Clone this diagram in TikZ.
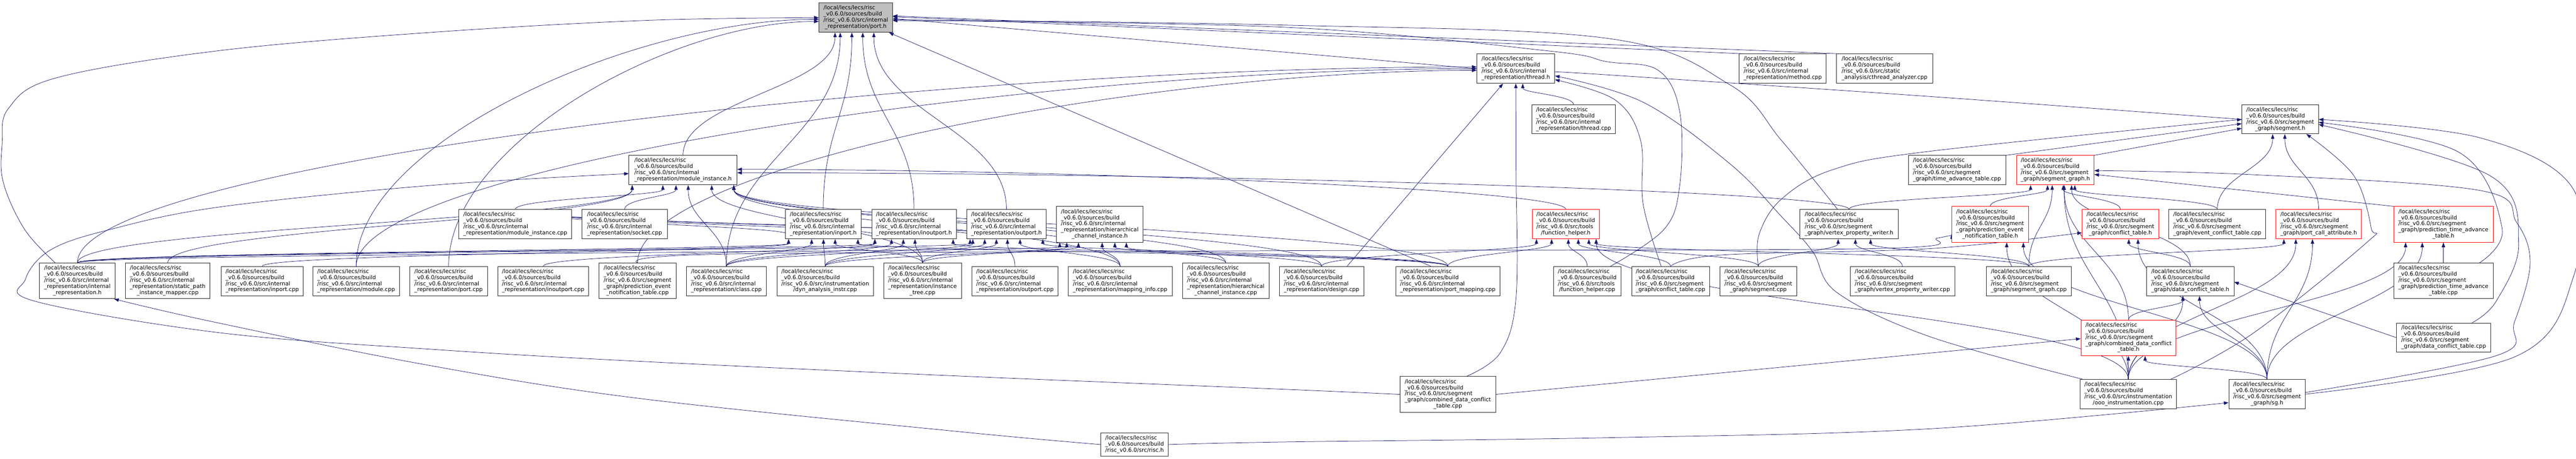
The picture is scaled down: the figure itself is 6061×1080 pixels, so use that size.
\documentclass[tikz,border=0pt]{standalone}
\usepackage{fontspec}
\setmainfont{DejaVu Sans}
\usetikzlibrary{arrows.meta,calc,backgrounds}
\definecolor{edgec}{HTML}{191970}
\definecolor{rootfill}{HTML}{BFBFBF}
\newcommand{\lcpre}{/local/lecs/lecs/risc\\\_v0.6.0/sources/build}
\newcommand{\lcir}{\lcpre\\/risc\_v0.6.0/src/internal}
\newcommand{\lcsg}{\lcpre\\/risc\_v0.6.0/src/segment}
\newcommand{\lns}[2]{\begin{tabular}{@{}l@{}}#1\\\multicolumn{1}{@{}c@{}}{#2}\end{tabular}}
\newcommand{\gn}[7]{\node[#2, minimum width={(#4-#3)*1pt}, minimum height={(#6-#5)*1pt}] (#1) at ({(#3+#4)/2},{-(#5+#6)/2}) {#7};}
\newcommand{\ed}[2]{\draw[edge] let \p1=(#1.north), \p2=(#2.south), \p3=(#2.south east), \n1={max(-(\x3-\x2)+8, min((\x3-\x2)-8, 0.12*(\x1-\x2)))}, \n2={0.45*(\y2-\y1)} in (\p1) .. controls +(0,\n2) and +(0,-\n2) .. (\x2+\n1,\y2);}
\newcommand{\edw}[3]{\draw[edge] let \p1=(#1.north), \p2=([yshift=#3]#2.west), \n1={0.5*(\y2-\y1)}, \n2={0.4*abs(\x2-\x1)} in (\p1) .. controls +(0,\n1) and +(-\n2,0) .. (\p2);}
\newcommand{\ede}[3]{\draw[edge] let \p1=(#1.north), \p2=([yshift=#3]#2.east), \n1={0.5*(\y2-\y1)}, \n2={0.4*abs(\x2-\x1)} in (\p1) .. controls +(0,\n1) and +(\n2,0) .. (\p2);}
\begin{document}
\begin{tikzpicture}[x=1pt,y=1pt,font={\fontsize{13}{14.4}\selectfont},
  box/.style={draw=black!85, line width=1.1pt, fill=white, inner sep=0pt},
  redbox/.style={box, draw=red},
  rootbox/.style={box, fill=rootfill},
  edge/.style={draw=edgec, line width=0.9pt, -{Triangle[length=11pt,width=8pt]}}]
\useasboundingbox (0,0) rectangle (6061,-1080);
% row 0
\gn{porth}{rootbox}{1927}{2100}{7}{76}{\lns{\lcir}{\_representation/port.h}}
% row 1
\gn{threadh}{box}{3475}{3658}{127}{196}{\lns{\lcir}{\_representation/thread.h}}
\gn{methodcpp}{box}{4092}{4297}{127}{196}{\lns{\lcir}{\_representation/method.cpp}}
\gn{cthread}{box}{4321}{4547}{127}{196}{\lns{\lcpre\\/risc\_v0.6.0/src/static}{\_analysis/cthread\_analyzer.cpp}}
% row 2
\gn{threadcpp}{box}{3604}{3801}{247}{315}{\lns{\lcir}{\_representation/thread.cpp}}
\gn{segmenth}{box}{5275}{5455}{247}{315}{\lns{\lcsg}{\_graph/segment.h}}
% row 3
\gn{modinsth}{box}{1480}{1734}{366}{435}{\lns{\lcir}{\_representation/module\_instance.h}}
\gn{tatcpp}{box}{4490}{4719}{366}{435}{\lns{\lcsg}{\_graph/time\_advance\_table.cpp}}
\gn{sgh}{redbox}{4745}{4927}{366}{435}{\lns{\lcsg}{\_graph/segment\_graph.h}}
% row 4
\gn{modinstcpp}{box}{1080}{1345}{493}{562}{\lns{\lcir}{\_representation/module\_instance.cpp}}
\gn{socketcpp}{box}{1369}{1570}{493}{562}{\lns{\lcir}{\_representation/socket.cpp}}
\gn{inporth}{box}{1848}{2026}{493}{562}{\lns{\lcir}{\_representation/inport.h}}
\gn{inoutporth}{box}{2051}{2250}{493}{562}{\lns{\lcir}{\_representation/inoutport.h}}
\gn{outporth}{box}{2275}{2461}{493}{562}{\lns{\lcir}{\_representation/outport.h}}
\gn{hcih}{box}{2486}{2689}{486}{570}{\lns{\lcir\\\_representation/hierarchical}{\_channel\_instance.h}}
\gn{fhh}{redbox}{3605}{3763}{493}{562}{\lns{\lcpre\\/risc\_v0.6.0/src/tools}{/function\_helper.h}}
\gn{vpwh}{box}{4235}{4466}{493}{562}{\lns{\lcsg}{\_graph/vertex\_property\_writer.h}}
\gn{pentableh}{redbox}{4592}{4773}{486}{570}{\lns{\lcsg\\\_graph/prediction\_event}{\_notification\_table.h}}
\gn{ctableh}{redbox}{4899}{5079}{493}{562}{\lns{\lcsg}{\_graph/conflict\_table.h}}
\gn{ectcpp}{box}{5103}{5331}{493}{562}{\lns{\lcsg}{\_graph/event\_conflict\_table.cpp}}
\gn{pcah}{redbox}{5355}{5556}{493}{562}{\lns{\lcsg}{\_graph/port\_call\_attribute.h}}
\gn{ptath}{redbox}{5632}{5866}{486}{570}{\lns{\lcsg\\\_graph/prediction\_time\_advance}{\_table.h}}
% row 5
\gn{irh}{box}{93}{271}{619}{703}{\lns{\lcir\\\_representation/internal}{\_representation.h}}
\gn{spimcpp}{box}{295}{494}{619}{703}{\lns{\lcir\\\_representation/static\_path}{\_instance\_mapper.cpp}}
\gn{inportcpp}{box}{521}{713}{627}{696}{\lns{\lcir}{\_representation/inport.cpp}}
\gn{modulecpp}{box}{736}{940}{627}{696}{\lns{\lcir}{\_representation/module.cpp}}
\gn{portcpp}{box}{964}{1147}{627}{696}{\lns{\lcir}{\_representation/port.cpp}}
\gn{inoutportcpp}{box}{1171}{1385}{627}{696}{\lns{\lcir}{\_representation/inoutport.cpp}}
\gn{pentablecpp}{box}{1409}{1591}{619}{703}{\lns{\lcsg\\\_graph/prediction\_event}{\_notification\_table.cpp}}
\gn{classcpp}{box}{1615}{1803}{627}{696}{\lns{\lcir}{\_representation/class.cpp}}
\gn{dyncpp}{box}{1828}{2055}{627}{696}{\lns{\lcpre\\/risc\_v0.6.0/src/instrumentation}{/dyn\_analysis\_instr.cpp}}
\gn{itreecpp}{box}{2079}{2262}{619}{703}{\lns{\lcir\\\_representation/instance}{\_tree.cpp}}
\gn{outportcpp}{box}{2287}{2489}{627}{696}{\lns{\lcir}{\_representation/outport.cpp}}
\gn{mapcpp}{box}{2513}{2758}{627}{696}{\lns{\lcir}{\_representation/mapping\_info.cpp}}
\gn{hcicpp}{box}{2782}{2986}{619}{703}{\lns{\lcir\\\_representation/hierarchical}{\_channel\_instance.cpp}}
\gn{designcpp}{box}{3010}{3209}{627}{696}{\lns{\lcir}{\_representation/design.cpp}}
\gn{pmapcpp}{box}{3284}{3529}{627}{696}{\lns{\lcir}{\_representation/port\_mapping.cpp}}
\gn{fhcpp}{box}{3655}{3814}{627}{696}{\lns{\lcpre\\/risc\_v0.6.0/src/tools}{/function\_helper.cpp}}
\gn{ctablecpp}{box}{3839}{4022}{627}{696}{\lns{\lcsg}{\_graph/conflict\_table.cpp}}
\gn{segcpp}{box}{4047}{4227}{627}{696}{\lns{\lcsg}{\_graph/segment.cpp}}
\gn{vpwcpp}{box}{4353}{4599}{627}{696}{\lns{\lcsg}{\_graph/vertex\_property\_writer.cpp}}
\gn{sgcpp}{box}{4674}{4873}{627}{696}{\lns{\lcsg}{\_graph/segment\_graph.cpp}}
\gn{dcth}{box}{5051}{5256}{627}{696}{\lns{\lcsg}{\_graph/data\_conflict\_table.h}}
\gn{ptatcpp}{box}{5632}{5866}{619}{703}{\lns{\lcsg\\\_graph/prediction\_time\_advance}{\_table.cpp}}
% row 6
\gn{cdcth}{redbox}{4896}{5120}{753}{837}{\lns{\lcsg\\\_graph/combined\_data\_conflict}{\_table.h}}
\gn{dctcpp}{box}{5639}{5860}{760}{829}{\lns{\lcsg}{\_graph/data\_conflict\_table.cpp}}
% row 7
\gn{cdctcpp}{box}{3294}{3519}{886}{970}{\lns{\lcsg\\\_graph/combined\_data\_conflict}{\_table.cpp}}
\gn{ooocpp}{box}{4894}{5121}{893}{962}{\lns{\lcpre\\/risc\_v0.6.0/src/instrumentation}{/ooo\_instrumentation.cpp}}
\gn{sgh2}{box}{5244}{5424}{893}{962}{\lns{\lcsg}{\_graph/sg.h}}
% row 8
\gn{risch}{box}{2590}{2749}{1019}{1073}{\lns{\lcpre}{/risc\_v0.6.0/src/risc.h}}
\begin{scope}[on background layer]
% ---- port.h
\ed{modinsth}{porth}\ed{classcpp}{porth}\ed{inporth}{porth}\ed{inoutporth}{porth}\ed{outporth}{porth}
\draw[edge] ([xshift=-40pt]pmapcpp.north) -- ([xshift=78pt]porth.south);
\draw[edge] (threadh.west) -- ([yshift=-2pt]porth.east);
\draw[edge] ([xshift=10pt]methodcpp.north west) -- ([yshift=2pt]porth.east);
\draw[edge] ([xshift=6pt]cthread.north west) -- ([yshift=4pt]porth.east);
\draw[edge] plot[smooth,tension=0.6] coordinates {([xshift=-27pt]vpwh.north) (4192,-331) (4071,-200) (3780,-90) (3020,-59) ([yshift=-5pt]porth.east)};
\draw[edge] plot[smooth,tension=0.6] coordinates {([xshift=55pt]fhcpp.north) (3915,-540) (3952,-437) (3952,-262) (3901,-165) (3780,-145) (3645,-120) (3020,-64) ([yshift=-7pt]porth.east)};
\edw{modulecpp}{porth}{-4pt}
\edw{portcpp}{porth}{-9pt}
\draw[edge] plot[smooth,tension=0.6] coordinates {([xshift=-52pt]irh.north) (58,-540) (8,-430) (5,-340) (20,-255) (133,-183) (517,-119) (1017,-76) (1520,-48) ([yshift=0pt]porth.west)};
% ---- thread.h
\ed{threadcpp}{threadh}
\draw[edge] plot[smooth,tension=0.6] coordinates {(segmenth.west) (4540,-227) (3780,-176) ([yshift=-8pt]threadh.east)};
\edw{irh}{threadh}{4pt}
\edw{modulecpp}{threadh}{0pt}
\edw{pentablecpp}{threadh}{-4pt}
\draw[edge] ([xshift=-40pt]designcpp.north east) -- ([xshift=-30pt]threadh.south);
\draw[edge] plot[smooth,tension=0.6] coordinates {([xshift=44pt]cdctcpp.north) (3530,-830) (3567,-700) (3567,-400) (threadh.south)};
\draw[edge] plot[smooth,tension=0.6] coordinates {([xshift=-22pt]ctablecpp.north) (3866,-480) (3860,-330) (3800,-235) ([yshift=-26pt]threadh.east)};
\draw[edge] plot[smooth,tension=0.6] coordinates {([xshift=-107pt]ooocpp.north) (4540,-792) (4323,-689) (4265,-592) (4192,-510) (4071,-386) (3867,-241) ([yshift=-17pt]threadh.east)};
% ---- module_instance.h
\ed{modinstcpp}{modinsth}\ed{socketcpp}{modinsth}\ed{classcpp}{modinsth}\ed{irh}{modinsth}
\ed{spimcpp}{modinsth}\ed{itreecpp}{modinsth}\ed{designcpp}{modinsth}\ed{mapcpp}{modinsth}
\ed{pmapcpp}{modinsth}\ed{hcicpp}{modinsth}
\ede{fhh}{modinsth}{2pt}
\ede{vpwh}{modinsth}{-6pt}
\draw[edge] plot[smooth,tension=0.6] coordinates {(cdctcpp.west) (3020,-916) (2260,-885) (1500,-850) (1017,-822) (517,-783) (83,-709) (60,-657) (119,-588) (259,-540) (517,-487) (1017,-436) ([yshift=-8pt]modinsth.west)};
% ---- port headers
\ed{irh}{inporth}\ed{inportcpp}{inporth}\ed{classcpp}{inporth}\ed{dyncpp}{inporth}
\ed{itreecpp}{inporth}\ed{modinstcpp}{inporth}\ed{pmapcpp}{inporth}
\ed{irh}{inoutporth}\ed{inoutportcpp}{inoutporth}\ed{dyncpp}{inoutporth}\ed{itreecpp}{inoutporth}
\ed{classcpp}{inoutporth}\ed{modinstcpp}{inoutporth}\ed{pmapcpp}{inoutporth}
\ed{irh}{outporth}\ed{outportcpp}{outporth}\ed{mapcpp}{outporth}\ed{dyncpp}{outporth}
\ed{itreecpp}{outporth}\ed{classcpp}{outporth}\ed{modinstcpp}{outporth}\ed{pmapcpp}{outporth}
\ed{irh}{hcih}\ed{hcicpp}{hcih}\ed{mapcpp}{hcih}\ed{itreecpp}{hcih}\ed{designcpp}{hcih}
\ed{dyncpp}{hcih}\ed{modinstcpp}{hcih}
% ---- function_helper.h
\ed{fhcpp}{fhh}\ed{designcpp}{fhh}\ed{pmapcpp}{fhh}\ed{ctablecpp}{fhh}\ed{segcpp}{fhh}
\ed{sgcpp}{fhh}\ed{ooocpp}{fhh}
% ---- vertex_property_writer.h
\ed{vpwcpp}{vpwh}\ed{segcpp}{vpwh}\ed{sgcpp}{vpwh}
% ---- segment.h
\draw[edge] plot[smooth,tension=0.6] coordinates {(segcpp.north) (4139,-551) (4192,-468) (4313,-399) (4540,-356) (segmenth.west)};
\draw[edge] (tatcpp.north east) -- ([yshift=-10pt]segmenth.west);
\draw[edge] (sgh.north east) -- ([yshift=-21pt]segmenth.west);
\ed{ectcpp}{segmenth}\ed{pcah}{segmenth}
\draw[edge] plot[smooth,tension=0.6] coordinates {(sgh2.east) (5916,-840) (6054,-654) (6052,-441) (5834,-324) (segmenth.east)};
\draw[edge] plot[smooth,tension=0.6] coordinates {([xshift=85pt]ptatcpp.north) (5887,-537) (5785,-358) ([yshift=-7pt]segmenth.east)};
\draw[edge] plot[smooth,tension=0.6] coordinates {([xshift=67pt]dctcpp.north) (5873,-709) (5926,-572) (5858,-413) ([yshift=-12pt]segmenth.east)};
\draw[edge] plot[smooth,tension=0.6] coordinates {([xshift=100pt]ooocpp.north) (5300,-785) (5567,-572) (5579,-537) (5538,-413) ([xshift=-29pt]segmenth.south east)};
% ---- segment_graph.h
\ed{pentableh}{sgh}\ed{cdcth}{sgh}\ed{dcth}{sgh}\ed{ctableh}{sgh}\ed{ectcpp}{sgh}
\ed{sgcpp}{sgh}\ed{vpwh}{sgh}\ed{ooocpp}{sgh}
\draw[edge] (ptath.north west) -- ([yshift=-10pt]sgh.east);
\draw[edge] plot[smooth,tension=0.6] coordinates {([yshift=4pt]sgh2.east) (5873,-837) (5916,-758) (5953,-620) (5921,-523) (5834,-448) (5300,-411) ([yshift=-1pt]sgh.east)};
% ---- other headers
\draw[edge] plot[smooth,tension=0.6] coordinates {(pentablecpp.north) (1700,-598) (3000,-590) (4400,-585) (4560,-560) ([yshift=-23pt]pentableh.west)};
\ed{sgh2}{pentableh}\ed{ooocpp}{pentableh}
\draw[edge] plot[smooth,tension=0.6] coordinates {(ctablecpp.north) (4050,-600) (4540,-585) ([yshift=-20pt]ctableh.west)};
\ed{dcth}{ctableh}\ed{sgh2}{ctableh}
\draw[edge] (dctcpp.west) -- ([yshift=-2pt]dcth.east);
\ed{cdcth}{dcth}\ed{ooocpp}{dcth}\ed{sgh2}{dcth}
\ed{ooocpp}{cdcth}\ed{sgh2}{cdcth}
\draw[edge] (cdctcpp.east) -- ([yshift=-2pt]cdcth.west);
\ed{ptatcpp}{ptath}\ed{sgh2}{ptath}\ed{ooocpp}{ptath}
\ed{sgh2}{pcah}\ed{ooocpp}{pcah}\ed{sgcpp}{pcah}
% ---- risc.h
\draw[edge] plot[smooth,tension=0.6] coordinates {(risch.west) (2260,-1016) (1500,-937) (1000,-858) (500,-757) ([xshift=-3pt]irh.south east)};
\draw[edge] plot[smooth,tension=0.6] coordinates {(risch.east) (3020,-1040) (3780,-1030) (4540,-1009) ([yshift=-20pt]sgh2.west)};
\end{scope}
\end{tikzpicture}
\end{document}
